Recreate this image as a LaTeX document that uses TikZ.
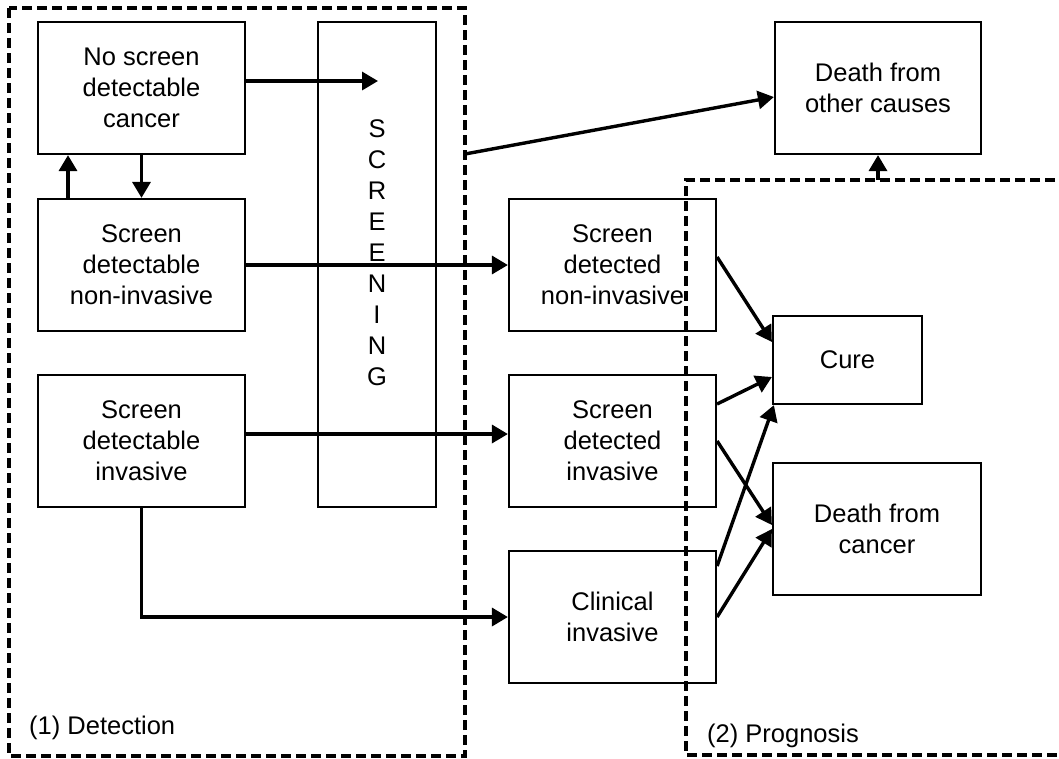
\documentclass[tikz,border=0pt]{standalone}
\usepackage{fontspec}
\setmainfont{Liberation Sans}
\usetikzlibrary{arrows.meta}
\begin{document}
\begin{tikzpicture}[x=1pt,y=-1pt,
  txt/.style={font=\fontsize{25.5}{31}\selectfont},
  box/.style={txt, draw, line width=2.2pt, inner sep=0pt, align=center,
              minimum width=207pt, minimum height=132pt},
  arr/.style={line width=3.4pt, -{Triangle[length=16pt,width=18pt]}},
  region/.style={line width=3.2pt, dash pattern=on 10pt off 5pt},
  lbl/.style={txt, inner sep=0pt, anchor=base west}]
\useasboundingbox (0,0) rectangle (1059,758);
\clip (0,0) rectangle (1059,758);

% regions
\draw[region] (9,8) rectangle (465,756);
\draw[region] (1070,180) -- (686,180) -- (686,755) -- (1070,755);
\coordinate (detR) at (465,154);
\coordinate (progT) at (878,180);

% boxes
\node[box] (b1) at (141.5,88) {No screen\\detectable\\cancer};
\node[box] (b2) at (141.5,265) {Screen\\detectable\\non-invasive};
\node[box] (b3) at (141.5,441) {Screen\\detectable\\invasive};
\node[box, minimum width=118pt, minimum height=485pt] (scr) at (377,264.5) {};
\node[txt, align=center, inner sep=0pt] (scrtext) at (377,253) {S\\C\\R\\E\\E\\N\\I\\N\\G};
\coordinate (scrtip) at (378,81);
\node[box] (sdni) at (612.5,265) {Screen\\detected\\non-invasive};
\node[box] (sdi) at (612.5,441) {Screen\\detected\\invasive};
\node[box] (clin) at (612.5,617) {Clinical\\invasive};
\node[box, minimum width=206pt] (doc) at (878,88) {Death from\\other causes};
\node[box, minimum width=149pt, minimum height=88pt] (cure) at (847.5,360) {Cure};
\node[box, minimum width=208pt] (dfc) at (877,529) {Death from\\cancer};

% labels
\node[lbl] (detlbl) at (29,734) {(1) Detection};
\node[lbl] (proglbl) at (707,742) {(2) Prognosis};

% connectors
\draw[arr] ([yshift=7pt]b1.east) -- (scrtip);
\draw[arr] (b1.south) -- (b2.north);
\draw[arr] ([xshift=-73.5pt]b2.north) -- ([xshift=-73.5pt]b1.south);
\draw[arr] (b2.east) -- (sdni.west);
\draw[arr] (b3.south) |- (clin.west);
\draw[arr] ([yshift=7pt]b3.east) -- ([yshift=7pt]sdi.west);
\draw[arr] (detR) -- ([yshift=-9pt]doc.west);
\draw[arr] (progT) -- (doc.south);
\draw[arr] ([yshift=8pt]sdni.east) -- ([yshift=18pt]cure.west);
\draw[arr] ([yshift=37pt]sdi.east) -- ([yshift=-17pt]cure.west);
\draw[arr] (sdi.east) -- ([yshift=4pt]dfc.west);
\draw[arr] ([yshift=51pt]clin.east) -- ([xshift=2pt]cure.south west);
\draw[arr] (clin.east) -- (dfc.west);
\end{tikzpicture}
\end{document}
